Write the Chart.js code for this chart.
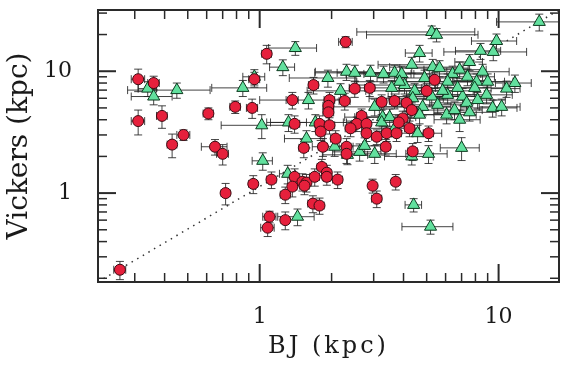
<!DOCTYPE html>
<html>
<head>
<meta charset="utf-8">
<script src="https://cdn.jsdelivr.net/npm/chart.js@4.4.1/dist/chart.umd.min.js"></script>
<style>
  html, body { margin: 0; padding: 0; background: #fff; }
  canvas { display: block; }
</style>
</head>
<body>
<canvas id="chart" width="570" height="368"></canvas>
<script>
// axis ranges and ticks (log-log)
const xRange = [0.2105, 17.9];
const yRange = [0.1864, 31.8];
const xTicks = [0.3, 0.4, 0.5, 0.6, 0.7, 0.8, 0.9, 1, 2, 3, 4, 5, 6, 7, 8, 9, 10];
const yTicks = [0.2, 0.3, 0.4, 0.5, 0.6, 0.7, 0.8, 0.9, 1, 2, 3, 4, 5, 6, 7, 8, 9, 10, 20, 30];
const xLabels = [1, 10];
const yLabels = [1, 10];

// red circles
const redX = [0.31, 0.36, 0.31, 0.39, 0.43, 0.48, 0.61, 0.65, 0.70, 0.79, 0.93, 0.95, 1.07, 2.29,
  0.26, 0.72, 0.94, 1.10, 1.08, 1.28, 1.28, 1.12, 1.40, 1.37, 1.51, 1.57, 1.70, 1.82, 1.91, 1.91,
  2.12, 1.67, 1.78, 2.97, 3.09, 3.71, 1.54,
  1.37, 1.96, 1.94, 1.94, 2.27, 3.24, 3.67, 2.67, 2.55, 2.80, 2.40, 2.80, 3.09, 3.40, 3.74, 3.37,
  1.40, 1.78, 1.96, 1.80, 2.08, 2.31, 2.31, 1.84, 1.53, 1.68, 2.50, 2.89, 4.12, 4.33, 5.0, 5.4,
  3.97, 3.82, 4.24, 5.09, 4.37];
const redY = [8.6, 8.0, 3.9, 4.3, 2.5, 3.0, 4.5, 2.4, 2.1, 5.1, 5.0, 8.6, 13.9, 17.4,
  0.235, 1.0, 1.19, 0.64, 0.52, 0.60, 0.97, 1.29, 1.36, 1.13, 1.24, 1.22, 1.36, 1.64, 1.47, 1.36,
  1.29, 0.82, 0.79, 1.15, 0.90, 1.24, 1.15,
  5.8, 5.8, 5.2, 4.6, 5.7, 5.6, 5.7, 4.3, 3.7, 3.7, 3.4, 3.1, 2.9, 3.1, 3.1, 2.4,
  3.7, 3.7, 3.6, 3.2, 2.8, 2.4, 2.1, 2.4, 2.35, 7.7, 7.2, 7.3, 5.5, 4.8, 6.9, 8.5,
  4.1, 3.8, 3.4, 3.1, 2.2];
const redXErr = [0.02, 0.02, 0.02, 0.02, 0.02, 0.03, 0.03, 0.08, 0.04, 0.04, 0.05, 0.05, 0.05, 0.15,
  0.015, 0.03, 0.04, 0.07, 0.07, 0.05, 0.06, 0.05, 0.06, 0.06, 0.07, 0.07, 0.08, 0.08, 0.08, 0.08,
  0.1, 0.08, 0.08, 0.12, 0.15, 0.15, 0.07,
  0.08, 0.1, 0.1, 0.1, 0.12, 0.15, 0.18, 0.12, 0.12, 0.12, 0.12, 0.12, 0.15, 0.15, 0.18, 0.15,
  0.07, 0.08, 0.1, 0.08, 0.1, 0.1, 0.1, 0.08, 0.07, 0.08, 0.12, 0.14, 0.2, 0.2, 0.25, 0.25,
  0.18, 0.18, 0.2, 0.25, 0.2];
const redYErr = [1.8, 1.1, 0.9, 0.9, 0.55, 0.3, 0.5, 0.35, 0.4, 0.6, 0.9, 1.2, 2.4, 1.8,
  0.04, 0.2, 0.2, 0.07, 0.08, 0.1, 0.15, 0.2, 0.22, 0.2, 0.2, 0.2, 0.22, 0.25, 0.22, 0.2,
  0.2, 0.13, 0.12, 0.15, 0.14, 0.18, 0.18,
  0.9, 0.9, 0.8, 0.7, 0.9, 0.8, 0.8, 0.6, 0.5, 0.5, 0.5, 0.45, 0.4, 0.45, 0.45, 0.35,
  0.6, 0.6, 0.55, 0.5, 0.45, 0.4, 0.35, 0.4, 0.4, 1.2, 1.1, 1.1, 0.8, 0.7, 1.0, 1.3,
  0.6, 0.55, 0.5, 0.45, 0.35];

// green triangles
const greenX = [0.34, 0.36, 0.45, 0.85, 0.95, 1.25, 1.02, 1.32, 1.03, 1.31, 1.41, 5.25, 5.5, 4.67,
  14.8, 9.8, 8.4, 9.5, 7.56, 1.93, 2.31, 2.50, 2.91, 3.30, 3.67, 3.93, 4.33, 5.30, 5.66, 6.42,
  6.12, 7.41, 8.57, 8.09, 9.0, 7.94, 10.8, 7.07, 7.35, 9.44, 10.3, 6.12, 5.83, 4.45, 5.25,
  4.81, 4.67, 6.06, 6.87, 7.0, 5.09, 4.33, 3.03, 2.62, 2.06, 2.18, 1.60, 1.71, 1.57, 3.27,
  3.24, 3.50, 3.03, 2.75, 2.33, 1.44, 4.41, 5.19,
  4.04, 4.90, 6.74, 5.56, 6.54, 8.17, 7.56, 4.37, 8.91, 11.7, 3.85, 3.57, 6.87, 3.67, 4.58];
const greenY = [7.2, 6.2, 7.0, 7.3, 9.0, 10.8, 3.6, 3.8, 1.84, 1.44, 15.5, 21.0, 19.9, 14.1,
  25.4, 17.7, 14.7, 14.4, 11.9, 8.8, 9.9, 9.7, 9.7, 9.5, 9.7, 9.5, 11.3, 10.8, 10.6, 9.5,
  8.2, 9.0, 9.9, 8.2, 8.2, 7.3, 7.2, 6.2, 5.5, 5.0, 5.1, 6.4, 6.9, 6.9, 6.2,
  5.1, 4.4, 4.4, 4.0, 2.35, 2.1, 2.0, 2.1, 2.18, 2.4, 6.9, 5.8, 3.8, 2.8, 4.2,
  3.8, 4.2, 5.1, 2.44, 2.06, 0.64, 0.80, 0.53,
  7.7, 8.8, 7.3, 5.3, 4.8, 5.8, 4.6, 6.0, 6.4, 8.0, 8.2, 7.3, 10.3, 3.4, 3.1];
const greenXErr = [0.03, 0.07, 0.17, 0.22, 0.1, 0.15, 0.33, 0.25, 0.1, 0.1, 0.32, 2.7, 2.7, 0.6,
  5.0, 2.1, 1.8, 3.6, 1.0, 0.6, 0.6, 0.8, 0.8, 1.0, 1.2, 1.2, 1.2, 1.8, 1.8, 2.0,
  2.0, 2.2, 2.5, 2.5, 2.5, 2.5, 1.5, 2.2, 2.2, 2.5, 2.0, 2.0, 2.0, 1.5, 1.8,
  1.5, 1.5, 2.0, 1.5, 1.3, 1.0, 1.0, 0.7, 0.6, 0.4, 0.6, 0.6, 0.6, 0.3, 1.0,
  1.0, 1.0, 1.0, 0.6, 0.5, 0.25, 0.35, 1.25,
  1.5, 1.8, 2.2, 1.8, 2.0, 2.5, 2.2, 1.5, 2.5, 2.0, 1.3, 1.2, 2.0, 1.0, 1.2];
const greenYErr = [1.0, 0.9, 1.0, 1.1, 1.3, 1.6, 0.8, 0.6, 0.3, 0.25, 2.0, 2.5, 2.5, 2.2,
  4.0, 2.5, 2.2, 2.2, 1.8, 1.4, 1.5, 1.5, 1.5, 1.5, 1.5, 1.5, 1.7, 1.7, 1.6, 1.5,
  1.3, 1.4, 1.5, 1.3, 1.3, 1.1, 1.1, 1.0, 0.9, 0.8, 0.8, 1.0, 1.0, 1.0, 1.0,
  0.8, 0.7, 0.7, 0.8, 0.5, 0.35, 0.3, 0.35, 0.35, 0.4, 1.0, 0.9, 0.6, 0.45, 0.7,
  0.6, 0.7, 0.8, 0.4, 0.35, 0.1, 0.1, 0.07,
  1.2, 1.4, 1.1, 0.8, 0.8, 0.9, 0.7, 0.9, 1.0, 1.3, 1.3, 1.1, 1.6, 0.5, 0.5];

// dotted diagonal, corner to corner
const diagX = [0.2105, 17.9];
const diagY = [0.1864, 31.8];

const ink = '#2a2a2a';

// error bars under the markers, frame and inward ticks on all four sides
const plotDeco = {
  id: 'plotDeco',
  beforeDatasetsDraw(chart) {
    const { ctx, chartArea: a, scales: { x, y } } = chart;
    ctx.save();
    ctx.beginPath();
    ctx.rect(a.left, a.top, a.right - a.left, a.bottom - a.top);
    ctx.clip();
    ctx.strokeStyle = 'rgba(35,35,35,0.85)';
    ctx.lineWidth = 1;
    const cap = 4;
    const bars = (xs, ys, xe, ye) => {
      xs.forEach((xv, i) => {
        const px = x.getPixelForValue(xv), py = y.getPixelForValue(ys[i]);
        const x0 = x.getPixelForValue(Math.max(xv - xe[i], 0.01)), x1 = x.getPixelForValue(xv + xe[i]);
        const y0 = y.getPixelForValue(Math.max(ys[i] - ye[i], 0.01)), y1 = y.getPixelForValue(ys[i] + ye[i]);
        ctx.beginPath();
        ctx.moveTo(x0, py); ctx.lineTo(x1, py);
        ctx.moveTo(x0, py - cap); ctx.lineTo(x0, py + cap);
        ctx.moveTo(x1, py - cap); ctx.lineTo(x1, py + cap);
        ctx.moveTo(px, y0); ctx.lineTo(px, y1);
        ctx.moveTo(px - cap, y0); ctx.lineTo(px + cap, y0);
        ctx.moveTo(px - cap, y1); ctx.lineTo(px + cap, y1);
        ctx.stroke();
      });
    };
    bars(greenX, greenY, greenXErr, greenYErr);
    bars(redX, redY, redXErr, redYErr);
    ctx.restore();
  },
  afterDraw(chart) {
    const { ctx, chartArea: a, scales: { x, y } } = chart;
    ctx.save();
    ctx.strokeStyle = ink;
    ctx.lineCap = 'butt';
    const seg = (x0, y0, x1, y1) => { ctx.beginPath(); ctx.moveTo(x0, y0); ctx.lineTo(x1, y1); ctx.stroke(); };
    xTicks.forEach(v => {
      const p = x.getPixelForValue(v);
      const major = xLabels.includes(v);
      const len = major ? 18 : 9;
      ctx.lineWidth = major ? 2 : 1.5;
      seg(p, a.bottom, p, a.bottom - len);
      seg(p, a.top, p, a.top + len);
    });
    yTicks.forEach(v => {
      const p = y.getPixelForValue(v);
      const major = yLabels.includes(v);
      const len = major ? 18 : 9;
      ctx.lineWidth = major ? 2 : 1.5;
      seg(a.left, p, a.left + len, p);
      seg(a.right, p, a.right - len, p);
    });
    ctx.lineWidth = 2;
    ctx.strokeRect(a.left, a.top, a.right - a.left, a.bottom - a.top);
    ctx.restore();
  }
};

const ctx = document.getElementById('chart').getContext('2d');
new Chart(ctx, {
  type: 'scatter',
  data: {
    datasets: [
      {
        label: 'red',
        data: redX.map((v, i) => ({ x: v, y: redY[i] })),
        pointStyle: 'circle',
        pointRadius: 5.5,
        backgroundColor: '#e6203c',
        borderColor: '#3d0b12',
        borderWidth: 1,
        order: 0
      },
      {
        label: 'green',
        data: greenX.map((v, i) => ({ x: v, y: greenY[i] })),
        pointStyle: 'triangle',
        pointRadius: 7,
        backgroundColor: '#62e09e',
        borderColor: '#0c3a1e',
        borderWidth: 1,
        order: 1
      },
      {
        type: 'line',
        label: '1:1',
        data: diagX.map((v, i) => ({ x: v, y: diagY[i] })),
        borderColor: '#333',
        borderWidth: 1.5,
        borderDash: [1.5, 5],
        pointRadius: 0,
        fill: false,
        order: 2
      }
    ]
  },
  options: {
    responsive: false,
    animation: false,
    events: [],
    layout: { padding: { left: 0, top: 10, right: 11, bottom: 0 } },
    plugins: { legend: { display: false }, tooltip: { enabled: false } },
    scales: {
      x: {
        type: 'logarithmic',
        min: xRange[0],
        max: xRange[1],
        grid: { display: false },
        border: { display: false },
        afterBuildTicks: s => { s.ticks = xTicks.map(v => ({ value: v })); },
        afterFit: s => {
          s.height = 86;
          s.paddingLeft = 0;
          s.paddingRight = 0;
          if (!s._spaced) {
            const orig = s.drawTitle.bind(s);
            s.drawTitle = function () { this.ctx.save(); this.ctx.letterSpacing = '3px'; orig(); this.ctx.restore(); };
            s._spaced = true;
          }
        },
        ticks: {
          autoSkip: false,
          maxRotation: 0,
          padding: 14,
          color: '#1a1a1a',
          font: { family: 'DejaVu Serif', size: 22 },
          callback: v => xLabels.includes(v) ? String(v) : null
        },
        title: {
          display: true,
          text: 'BJ (kpc)',
          color: '#1a1a1a',
          font: { family: 'DejaVu Serif', size: 24 },
          padding: { top: 0, bottom: 7 }
        }
      },
      y: {
        type: 'logarithmic',
        min: yRange[0],
        max: yRange[1],
        grid: { display: false },
        border: { display: false },
        afterBuildTicks: s => { s.ticks = yTicks.map(v => ({ value: v })); },
        afterFit: s => { s.width = 98; s.paddingTop = 0; s.paddingBottom = 0; },
        ticks: {
          autoSkip: false,
          padding: 18,
          color: '#1a1a1a',
          font: { family: 'DejaVu Serif', size: 22 },
          callback: v => yLabels.includes(v) ? String(v) : null
        },
        title: {
          display: true,
          text: 'Vickers (kpc)',
          color: '#1a1a1a',
          font: { family: 'DejaVu Serif', size: 28 },
          padding: { top: 3, bottom: 0 }
        }
      }
    }
  },
  plugins: [plotDeco]
});
</script>
</body>
</html>
